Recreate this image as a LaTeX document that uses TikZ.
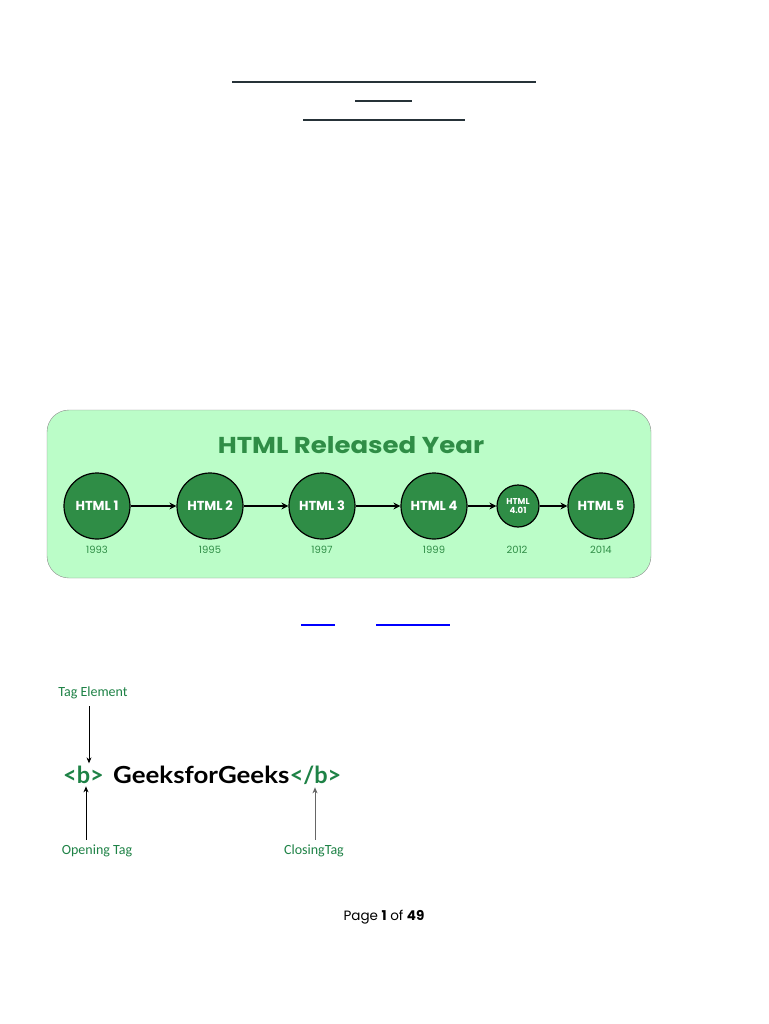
\documentclass[tikz,border=0pt]{standalone}
\usepackage{fontspec}
\setmainfont{Carlito}
\newfontfamily\gfgfont{Poppins}
\newfontfamily\titlefont{Poppins}[FakeStretch=1.13]
\newfontfamily\codefont{Lato}[FakeStretch=1.1]
\newfontfamily\tagfont{Lato}
\usepackage{tikz}
\usetikzlibrary{arrows.meta}
\definecolor{gfggreen}{RGB}{47,141,70}
\definecolor{boxgreen}{RGB}{187,253,200}
\definecolor{rulegray}{RGB}{38,50,56}
\definecolor{tagtext}{RGB}{30,130,70}

\begin{document}
\begin{tikzpicture}[x=1pt, y=-1pt,
  ver/.style={circle, draw=black, line width=1.2pt, fill=gfggreen, text=white,
    minimum size=66pt, inner sep=0pt, font=\gfgfont\bfseries\fontsize{13}{15}\selectfont},
  yr/.style={text=gfggreen, font=\gfgfont\fontsize{10}{12}\selectfont},
  relarrow/.style={-{Stealth[length=7pt, width=7pt]}, line width=1.2pt},
  tagarrow/.style={-{Stealth[length=6pt, width=5pt]}, line width=0.8pt},
  lbl/.style={text=tagtext, inner sep=1pt, font=\fontsize{14}{16}\selectfont},
  big/.style={anchor=base west, inner sep=0pt, font=\codefont\bfseries\fontsize{23.5}{26}\selectfont},
  bigtag/.style={big, text=tagtext, font=\tagfont\bfseries\fontsize{23.5}{26}\selectfont}]
  \useasboundingbox[fill=white] (0,0) rectangle (768,1024);
  \draw[rulegray, line width=1.5pt] (232,82) -- (536,82);
  \draw[rulegray, line width=1.5pt] (355,101) -- (412,101);
  \draw[rulegray, line width=1.5pt] (303,120) -- (465,120);
  \draw[black!45, fill=boxgreen, rounded corners=22pt] (47,410) rectangle (651,578);
  \node[text=gfggreen, font=\titlefont\bfseries\fontsize{23}{26}\selectfont] (title) at (351,445) {HTML Released Year};
  \node[ver] (h1) at (97,506) {HTML 1};
  \node[ver] (h2) at (210,506) {HTML 2};
  \node[ver] (h3) at (322,506) {HTML 3};
  \node[ver] (h4) at (434,506) {HTML 4};
  \node[ver, minimum size=42pt, align=center, font=\gfgfont\bfseries\fontsize{8.5}{9.5}\selectfont] (h401) at (518,506) {HTML\\4.01};
  \node[ver] (h5) at (601,506) {HTML 5};
  \foreach \a/\b in {h1/h2, h2/h3, h3/h4, h4/h401, h401/h5}
    \draw[relarrow] (\a) -- (\b);
  \node[yr] (y1) at (97,550) {1993};
  \node[yr] (y2) at (210,550) {1995};
  \node[yr] (y3) at (322,550) {1997};
  \node[yr] (y4) at (434,550) {1999};
  \node[yr] (y5) at (517,550) {2012};
  \node[yr] (y6) at (601,550) {2014};
  \draw[blue, line width=2pt] (301,625) -- (335,625);
  \draw[blue, line width=2pt] (376,625) -- (450,625);
  \node[lbl] (tagel) at (93,693) {Tag Element};
  \node[bigtag] (open) at (63,783) {<b>};
  \node[big] (gfg) at (113,783) {GeeksforGeeks};
  \node[bigtag] (close) at (gfg.base east) {</b>};
  \node[lbl] (opening) at (97,851) {Opening Tag};
  \node[lbl] (closing) at (314,851) {ClosingTag};
  \draw[tagarrow] ([yshift=-6pt]tagel.south -| 89,0) -- ([yshift=2pt]open.north -| 89,0);
  \draw[tagarrow] ([yshift=4pt]opening.north -| 86,0) -- ([yshift=-3pt]open.south -| 86,0);
  \draw[tagarrow, black!60] ([yshift=4pt]closing.north -| 315,0) -- ([yshift=-3pt]close.south -| 315,0);
  \node[font=\gfgfont\fontsize{13.5}{15}\selectfont] (page) at (384,917) {Page \textbf{1} of \textbf{49}};
\end{tikzpicture}
\end{document}
